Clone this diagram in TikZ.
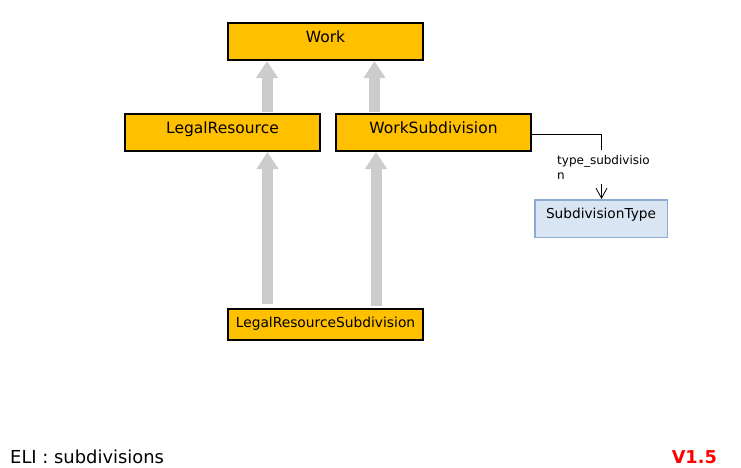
\documentclass[tikz,border=0pt]{standalone}
\usepackage{fontspec}
\setmainfont{DejaVu Sans}
\usetikzlibrary{arrows.meta,calc}
\definecolor{clsfill}{HTML}{FFC000}
\definecolor{typefill}{HTML}{DAE5F3}
\definecolor{typedraw}{HTML}{8EAAD0}
\definecolor{genc}{HTML}{CCCCCC}
\tikzset{
  cls/.style={draw=black, line width=2pt, fill=clsfill, rectangle, inner sep=0pt,
    minimum width=195pt, minimum height=37pt, text height=12pt, text depth=11pt,
    font=\fontsize{15.5}{18}\selectfont},
  typebox/.style={draw=typedraw, line width=1.5pt, fill=typefill, rectangle, inner sep=0pt,
    minimum width=132.5pt, minimum height=37.5pt, text height=12pt, text depth=12.4pt,
    font=\fontsize{13.7}{16}\selectfont},
  gen/.style={draw=genc, line width=11pt, -{Triangle[width=21pt,length=17pt]}},
  assoc/.style={draw=black, line width=0.8pt, -{Straight Barb[width=11pt,length=10pt,line width=0.8pt]}},
  lbl/.style={fill=white, inner xsep=1pt, inner ysep=5pt, anchor=base west, font=\fontsize{12}{15}\selectfont, align=left}
}
\begin{document}
\begin{tikzpicture}[x=1pt,y=-1pt]
\useasboundingbox (0,0) rectangle (741,467);
\node[cls] (work) at (325.5,41.5) {Work};
\node[cls] (lr) at (222.5,132.5) {LegalResource};
\node[cls] (ws) at (433.5,132.5) {WorkSubdivision};
\node[cls, minimum height=31pt, text depth=5.6pt, font=\fontsize{13.8}{16}\selectfont] (lrs) at (325.5,324.5) {LegalResourceSubdivision};
\node[typebox] (st) at (601,218.5) {SubdivisionType};
% generalizations
\draw[gen] ($(lr.north -| 267,0)+(0,-1)$) -- (work.south -| 267,0);
\draw[gen] ($(ws.north -| 374.5,0)+(0,-1)$) -- (work.south -| 374.5,0);
\draw[gen] ($(lrs.north -| 267.5,0)+(0,-4)$) -- (lr.south -| 267.5,0);
\draw[gen] ($(lrs.north -| 376,0)+(0,-2)$) -- (ws.south -| 376,0);
% association
\coordinate (bend) at (601.5,134);
\draw[assoc] (ws.east |- bend) -- (bend) -- (st.north -| bend);
\node[lbl] (asl) at (556,179) {type\_subdivisio\\n};
% footer
\node[inner sep=0pt, anchor=base west, font=\fontsize{17.9}{20}\selectfont] (title) at (10,463) {ELI : subdivisions};
\node[inner sep=0pt, anchor=base east, text=red, font=\bfseries\fontsize{17.7}{20}\selectfont] (ver) at (717,463) {V1.5};
\end{tikzpicture}
\end{document}
